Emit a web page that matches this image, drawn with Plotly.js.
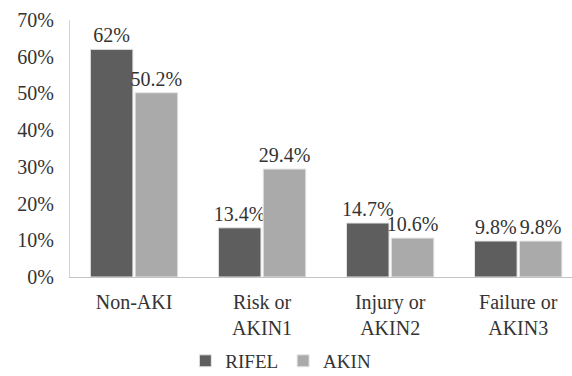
<!DOCTYPE html>
<html>
<head>
<meta charset="utf-8">
<script src="https://cdn.plot.ly/plotly-3.0.1.min.js"></script>
<style>html,body{margin:0;padding:0;background:#fff;}#chart{width:572px;height:376px;}</style>
</head>
<body>
<div id="chart"></div>
<script>
const categories = ["Non-AKI", "Risk or<br>AKIN1", "Injury or<br>AKIN2", "Failure or<br>AKIN3"];
const rifel = [0.62, 0.134, 0.147, 0.098];
const akin = [0.502, 0.294, 0.106, 0.098];
const rifelLabels = ["62%", "13.4%", "14.7%", "9.8%"];
const akinLabels = ["50.2%", "29.4%", "10.6%", "9.8%"];
const yTicks = [0, 0.1, 0.2, 0.3, 0.4, 0.5, 0.6, 0.7];
const yTickText = ["0%", "10%", "20%", "30%", "40%", "50%", "60%", "70%"];

const fam = "'Liberation Serif', 'Times New Roman', serif";
const f = (s) => ({family: fam, size: s, color: "#333"});

const traces = [
  {type: "bar", name: "RIFEL", x: categories, y: rifel, text: rifelLabels, textposition: "outside",
   cliponaxis: false, constraintext: "none", textfont: f(20),
   marker: {color: "#5e5e5e", line: {color: "#e6e6e6", width: 1}}},
  {type: "bar", name: "AKIN", x: categories, y: akin, text: akinLabels, textposition: "outside",
   cliponaxis: false, constraintext: "none", textfont: f(20),
   marker: {color: "#aaaaaa", line: {color: "#e6e6e6", width: 1}}}
];

const layout = {
  width: 572, height: 376,
  margin: {l: 70, r: 0, t: 20, b: 99},
  paper_bgcolor: "#fff", plot_bgcolor: "#fff",
  font: f(20),
  barmode: "group", bargap: 0.3, bargroupgap: 0.05,
  showlegend: true,
  legend: {orientation: "h", x: 0.42, xanchor: "center", yref: "container", y: 0.04, yanchor: "middle",
           font: f(19), itemwidth: 30, traceorder: "normal"},
  xaxis: {type: "category", range: [-0.5, 3.42], showline: true, linecolor: "#c4c4c4", linewidth: 1,
          showgrid: false, ticks: "outside", ticklen: 7, tickcolor: "rgba(0,0,0,0)",
          tickfont: f(20), fixedrange: true, automargin: false},
  yaxis: {range: [0, 0.7], tickvals: yTicks, ticktext: yTickText, showline: true, linecolor: "#d4d4d4",
          linewidth: 1, showgrid: false, zeroline: false, ticks: "outside", ticklen: 11,
          tickcolor: "rgba(0,0,0,0)", tickfont: f(20), automargin: false}
};

Plotly.newPlot("chart", traces, layout, {displayModeBar: false, staticPlot: true});
</script>
</body>
</html>
